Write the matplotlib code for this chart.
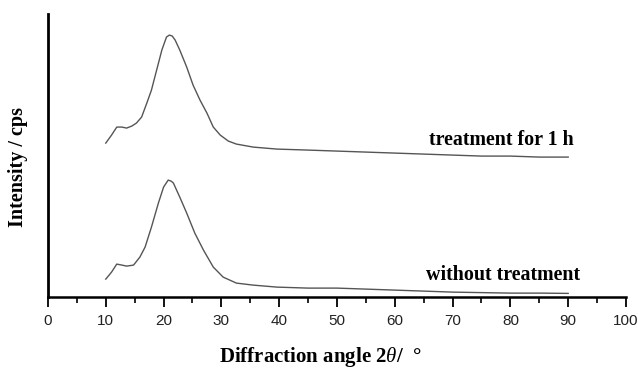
import matplotlib
matplotlib.use("Agg")
import matplotlib.pyplot as plt
from matplotlib.ticker import MultipleLocator

plt.rcParams["mathtext.fontset"] = "custom"
plt.rcParams["mathtext.it"] = "Liberation Serif:italic"
plt.rcParams["mathtext.rm"] = "Liberation Serif"

# Data (intensity in arbitrary units)
angle_top = [10, 11, 11.9, 12.8, 13.6, 14.5, 15.3, 16.2, 17.1, 17.9, 18.8, 19.7, 20.5, 21.0,
             21.5, 22.0, 22.8, 24.0, 25.1, 26.3, 27.5, 28.6, 29.8, 31.2, 32.6, 35.5, 39.6,
             45, 50, 55, 60, 65, 70, 75, 80, 85, 90]
intensity_top = [154, 162, 170, 170, 169, 171, 174, 180, 194, 207, 227, 247, 260, 262,
                 261, 257, 247, 230, 212, 197, 184, 170, 162, 156, 153, 150, 148,
                 147, 146, 145, 144, 143, 142, 141, 141, 140, 140]

angle_bottom = [10, 11, 11.9, 12.8, 13.6, 14.8, 15.9, 16.8, 17.9, 19.1, 20.0, 20.8, 21.3,
                21.7, 22.8, 24.0, 25.4, 26.9, 28.6, 30.3, 32.6, 35.5, 39.6, 45, 50, 55,
                60, 65, 70, 75, 80, 85, 90]
intensity_bottom = [18, 25, 33, 32, 31, 32, 40, 50, 70, 94, 110, 117, 116,
                    114, 100, 84, 64, 47, 30, 20, 14, 12, 10, 9, 9, 8,
                    7, 6, 5, 4.5, 4, 4, 3.7]

labels = ["treatment for 1 h", "without treatment"]
x_ticks = [0, 10, 20, 30, 40, 50, 60, 70, 80, 90, 100]

fig = plt.figure(figsize=(6.38, 3.70), dpi=100)
ax = fig.add_axes([0.0752, 0.197, 0.906, 0.765])

line_color = "#555555"
ax.plot(angle_top, intensity_top, color=line_color, lw=1.0)
ax.plot(angle_bottom, intensity_bottom, color=line_color, lw=1.0)

serif = "Liberation Serif"
ax.text(78.5, 157, labels[0], fontfamily=serif, fontweight="bold", fontsize=14.4,
        ha="center", va="center")
ax.text(78.8, 22, labels[1], fontfamily=serif, fontweight="bold", fontsize=14.4,
        ha="center", va="center")

ax.set_xlim(0, 100)
ax.set_ylim(0, 283)
ax.set_xticks(x_ticks)
ax.xaxis.set_minor_locator(MultipleLocator(5))
ax.set_yticks([])
for s in ["top", "right"]:
    ax.spines[s].set_visible(False)
ax.spines["left"].set_linewidth(2.0)
ax.spines["bottom"].set_linewidth(1.8)
ax.tick_params(axis="x", which="major", length=7, width=1.3, direction="out",
               labelsize=11, pad=5)
ax.tick_params(axis="x", which="minor", length=4, width=1.2, direction="out")
for lab in ax.get_xticklabels():
    lab.set_fontfamily("Liberation Sans")
    lab.set_color("#222222")

fig.text(0.502, 0.036, r"Diffraction angle 2$\mathit{\theta}$/  °", fontfamily=serif,
         fontweight="bold", fontsize=15, ha="center", va="center")
fig.text(0.028, 0.549, "Intensity / cps", fontfamily=serif, fontweight="bold",
         fontsize=14.5, ha="center", va="center", rotation=90)

fig.savefig("out.png", dpi=100)
